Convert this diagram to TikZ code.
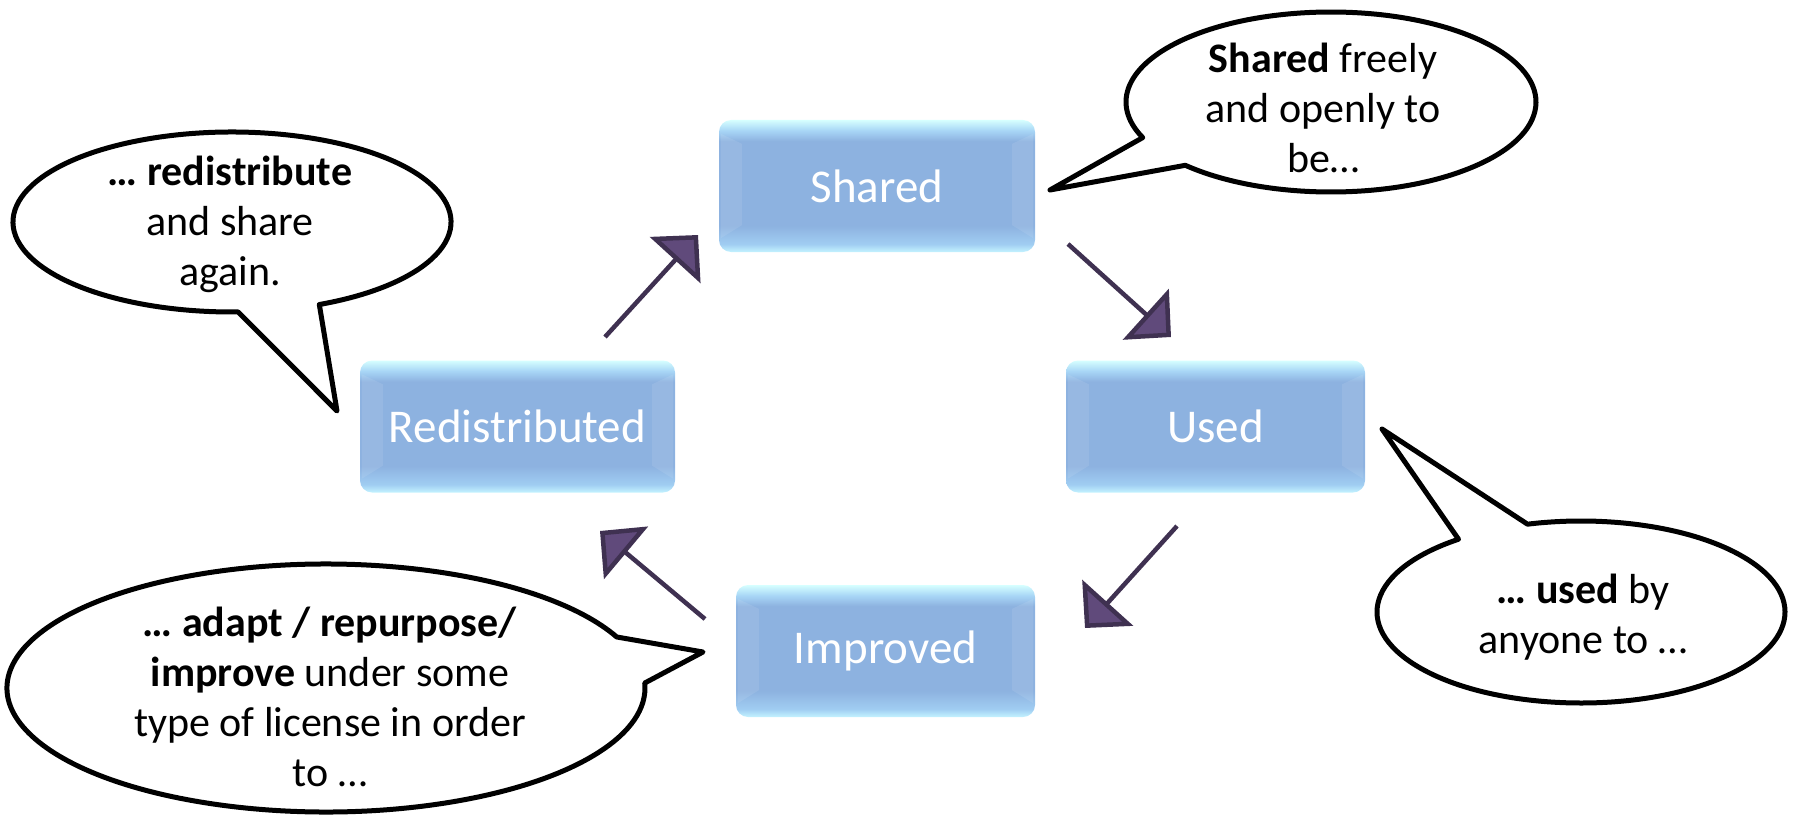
\documentclass[tikz,border=0pt]{standalone}
\usepackage{fontspec}
\setmainfont{Carlito}
\usetikzlibrary{arrows.meta,calc}
\definecolor{boxc}{RGB}{141,178,224}
\definecolor{topc}{RGB}{214,255,255}
\definecolor{topc2}{RGB}{168,214,246}
\definecolor{botc}{RGB}{196,243,255}
\definecolor{botc2}{RGB}{160,205,242}
\definecolor{arrline}{RGB}{63,49,81}
\definecolor{arrfill}{RGB}{96,74,123}
\pgfdeclareverticalshading{boxshade}{100bp}{color(0bp)=(botc); color(25bp)=(botc); color(28bp)=(botc2); color(35bp)=(boxc); color(67bp)=(boxc); color(71bp)=(topc2); color(75bp)=(topc); color(100bp)=(topc)}
\tikzset{
  stagebox/.style={rounded corners=12pt, shade, shading=boxshade, minimum height=132pt, text=white, font=\fontsize{47}{56}\selectfont, inner sep=0pt},
  bubble/.style={draw=black, line width=5pt, fill=white, line join=round},
  bubbletext/.style={align=center, font=\fontsize{42}{50}\selectfont, text=black, inner sep=0pt},
  flow/.style={draw=arrline, line width=4.5pt, -{Triangle[length=34pt,width=68pt,fill=arrfill]}},
  bevel/.style={fill=white, opacity=0.09}
}
\begin{document}
\begin{tikzpicture}[x=1pt,y=1pt]
\useasboundingbox (0,0) rectangle (1793,-821);

% ---- stage boxes ----
\node[stagebox, minimum width=316pt] (sh) at (877,-186) {Shared};
\node[stagebox, minimum width=315pt] (re) at (517.5,-426.5) {Redistributed};
\node[stagebox, minimum width=299pt] (us) at (1215.5,-426.5) {Used};
\node[stagebox, minimum width=299pt] (im) at (885.5,-651) {Improved};
\foreach \n in {sh,re,us,im}{
  \fill[bevel] ($(\n.north west)+(2,-14)$) -- ($(\n.north west)+(23,-24)$) -- ($(\n.south west)+(23,27)$) -- ($(\n.south west)+(2,14)$) -- cycle;
  \fill[bevel] ($(\n.north east)+(-2,-14)$) -- ($(\n.north east)+(-23,-24)$) -- ($(\n.south east)+(-23,27)$) -- ($(\n.south east)+(-2,14)$) -- cycle;
}

% ---- arrows ----
\coordinate (a1s) at (605,-337);  \coordinate (a1e) at (698,-235);
\coordinate (a2s) at (1068,-244); \coordinate (a2e) at (1171,-337);
\coordinate (a3s) at (1177,-526); \coordinate (a3e) at (1085,-628);
\coordinate (a4s) at (705,-619);  \coordinate (a4e) at (600,-531);
\draw[flow] (a1s) -- (a1e);
\draw[flow] (a2s) -- (a2e);
\draw[flow] (a3s) -- (a3e);
\draw[flow] (a4s) -- (a4e);

% ---- callouts ----
\coordinate (trc) at (1331,-102);  \coordinate (trtip) at (1050,-190);
\coordinate (tlc) at (232,-222);   \coordinate (tltip) at (337,-411);
\coordinate (brc) at (1581,-612);  \coordinate (brtip) at (1382,-429);
\coordinate (blc) at (326,-688);   \coordinate (bltip) at (703,-652);

\draw[bubble] (trtip) -- ($(trc)+(224.7:205 and 90)$) arc[start angle=224.7, end angle=563.3, x radius=205, y radius=90] -- cycle;
\draw[bubble] (tltip) -- ($(tlc)+(293.5:219 and 90)$) arc[start angle=293.5, end angle=631.6, x radius=219, y radius=90] -- cycle;
\draw[bubble] (brtip) -- ($(brc)+(126.9:204 and 91)$) arc[start angle=126.9, end angle=465.2, x radius=204, y radius=91] -- cycle;
\draw[bubble] (bltip) -- ($(blc)+(24.3:319 and 124)$) arc[start angle=24.3, end angle=362.3, x radius=319, y radius=124] -- cycle;

\node[bubbletext] (trt) at (1323,-108) {\textbf{Shared} freely\\and openly to\\be…};
\node[bubbletext] (tlt) at (230,-224) {\textbf{… redistribute}\\and share\\again.};
\node[bubbletext] (brt) at (1583,-617) {\textbf{… used} by\\anyone to …};
\node[bubbletext] (blt) at (330,-697) {\textbf{… adapt / repurpose/}\\\textbf{improve} under some\\type of license in order\\to …};
\end{tikzpicture}
\end{document}
